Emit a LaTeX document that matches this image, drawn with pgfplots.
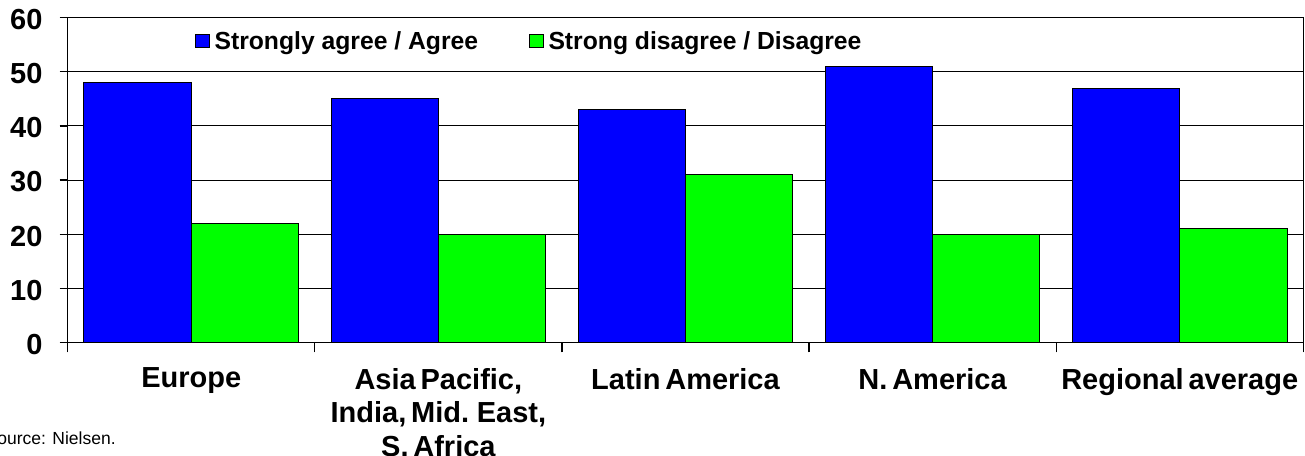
\documentclass[border=0pt]{standalone}
\usepackage{fontspec}
\setmainfont{Liberation Sans}
\newfontfamily\labelfont[WordSpace=0.6]{Liberation Sans}
\usepackage{pgfplots}
\pgfplotsset{compat=1.18}
\definecolor{barblue}{RGB}{0,0,255}
\definecolor{bargreen}{RGB}{0,255,0}
\begin{document}
\begin{tikzpicture}
\begin{axis}[
  at={(67.7pt,112.7pt)}, anchor=south west,
  scale only axis, width=1235.6pt, height=324.6pt,
  ybar=0pt, bar width=107.3pt,
  xmin=-0.5, xmax=4.5, ymin=0, ymax=60,
  xtick={-0.5,0.5,...,4.5},
  x tick label as interval,
  xticklabels={Europe,{Asia Pacific,\\India, Mid. East,\\S. Africa},Latin America,N. America,Regional average},
  ytick={0,10,...,60},
  xtick pos=bottom, ytick pos=left,
  ymajorgrids,
  grid style={black, line width=1pt},
  tick align=outside,
  major tick length=8pt,
  xtick style={/pgfplots/major tick length=10pt},
  tick style={black, line width=1.2pt},
  axis line style={black, line width=1.3pt},
  /pgf/number format/assume math mode=true,
  yticklabel style={font=\fontsize{29}{29}\selectfont\bfseries, anchor=east, inner sep=0pt, xshift=-17pt, yshift=-2pt},
  xticklabel style={font=\labelfont\fontsize{29}{33.5}\selectfont\bfseries, anchor=north, inner sep=0pt, align=center, yshift=-17.5pt},
  legend columns=2,
  legend style={draw=none, fill=none, inner sep=0pt, at={(rel axis cs:0.1030,0.928)}, anchor=west,
    font=\fontsize{24.7}{30}\selectfont\bfseries, nodes={inner sep=0pt},
    /tikz/every odd column/.append style={column sep=5pt},
    /tikz/every even column/.append style={column sep=51pt}},
  every axis plot post/.append style={legend image code/.code={\draw[#1, line width=1pt] (0pt,-6.7pt) rectangle (13.4pt,6.7pt);}},
]
\addplot[fill=barblue, draw=black, line width=1pt] coordinates {(0,48) (1,45) (2,43) (3,51) (4,47)};
\addplot[fill=bargreen, draw=black, line width=1pt] coordinates {(0,22) (1,20) (2,31) (3,20) (4,21)};
\legend{Strongly agree / Agree, Strong disagree / Disagree}
\end{axis}
\node[anchor=base west, inner sep=0pt, font=\fontsize{17.5}{17.5}\selectfont] at (-14.5pt,11pt) {Source: Nielsen.};
\pgfresetboundingbox
\useasboundingbox (0,0) rectangle (1305pt,455pt);
\end{tikzpicture}
\end{document}
